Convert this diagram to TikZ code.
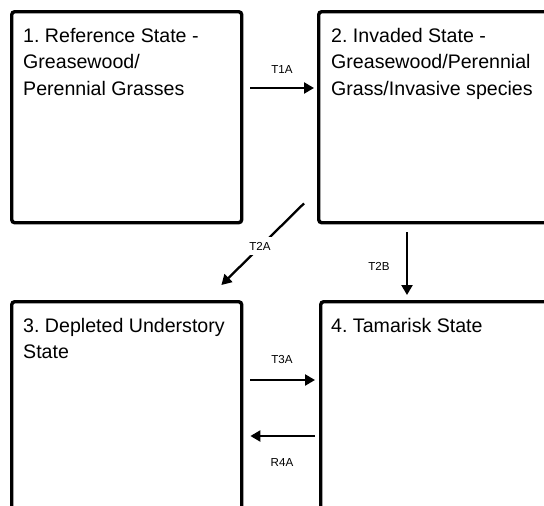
\documentclass[tikz,border=0pt]{standalone}
\usepackage{fontspec}
\setmainfont{Liberation Sans}
\usetikzlibrary{arrows.meta}
\frenchspacing
\begin{document}
\begin{tikzpicture}[x=1pt,y=-1pt,
  statebox/.style={draw=black,line width=3.4pt,rounded corners=3pt,fill=white,inner sep=0pt,anchor=north west},
  boxtext/.style={anchor=north west,align=left,inner sep=0pt,font=\fontsize{19.6}{26.5}\selectfont},
  conn/.style={line width=2.3pt,-{Triangle[length=10pt,width=11pt]}},
  lbl/.style={font=\fontsize{11.6}{13}\selectfont,inner sep=0pt}]
\useasboundingbox (0,0) rectangle (544,506);
\clip (0,0) rectangle (544,506);
\node[statebox,minimum width=230pt,minimum height=211pt] (b1) at (10,10) {};
\node[statebox,minimum width=240pt,minimum height=211pt] (b2) at (317,10) {};
\node[statebox,minimum width=230pt,minimum height=230pt] (b3) at (10,300) {};
\node[statebox,minimum width=240pt,minimum height=230pt] (b4) at (319,300) {};
\node[boxtext] (t1) at (23,27.7) {1. Reference State -\\Greasewood/\\Perennial Grasses};
\node[boxtext] (t2) at (331,27.7) {2. Invaded State -\\Greasewood/Perennial\\Grass/Invasive species};
\node[boxtext] (t3) at (23,317.7) {3. Depleted Understory\\State};
\node[boxtext] (t4) at (331,317.7) {4. Tamarisk State};
\draw[conn] ([xshift=7pt,yshift=-78pt]b1.north east) -- ([xshift=-3pt,yshift=-78pt]b2.north west);
\draw[conn] ([xshift=-13pt,yshift=21pt]b2.south west) -- ([xshift=-22pt,yshift=15pt]b3.north east);
\draw[conn] ([xshift=90pt,yshift=-8pt]b2.south west) -- ([xshift=88pt,yshift=5pt]b4.north west);
\draw[conn] ([xshift=7pt,yshift=-80pt]b3.north east) -- ([xshift=-4pt,yshift=-80pt]b4.north west);
\draw[conn] ([xshift=-4pt,yshift=-136pt]b4.north west) -- ([xshift=7pt,yshift=-136pt]b3.north east);
\node[lbl] (l1) at (282,70) {T1A};
\node[lbl,fill=white,inner xsep=3pt,inner ysep=5pt] (l2) at (260,246) {T2A};
\node[lbl] (l3) at (379,266) {T2B};
\node[lbl] (l4) at (282,360) {T3A};
\node[lbl] (l5) at (282,463) {R4A};
\end{tikzpicture}
\end{document}
